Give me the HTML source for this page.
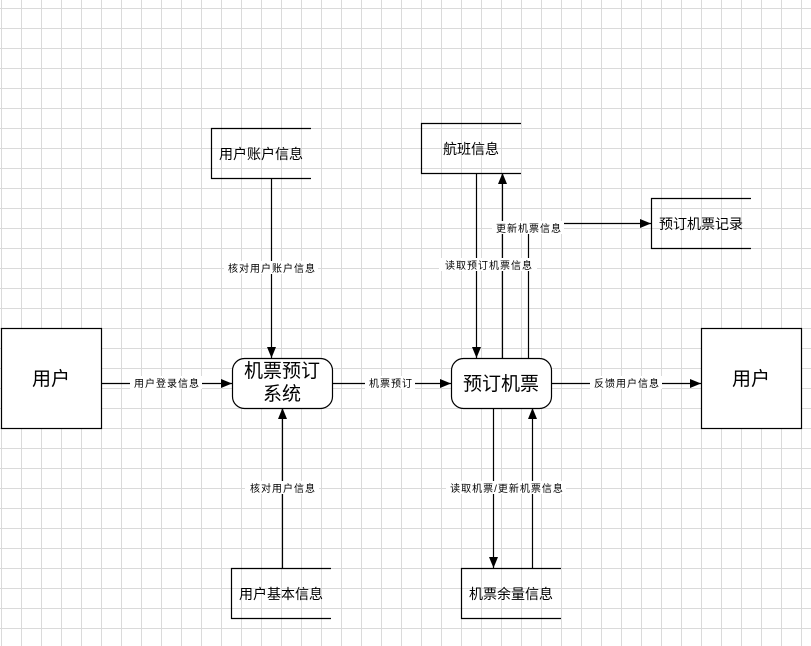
<!DOCTYPE html>
<html><head><meta charset="utf-8"><style>
html,body{margin:0;padding:0;background:#fff;}
svg{display:block;}
text{font-family:"Liberation Sans","Noto Sans CJK SC",sans-serif;fill:#000;}
.s{font-size:10px;letter-spacing:1px;}
</style></head><body>
<svg width="811" height="646" xmlns="http://www.w3.org/2000/svg">
<defs>
<pattern id="g" x="1" y="8" width="20" height="20" patternUnits="userSpaceOnUse">
<path d="M0.5 0V20M0 0.5H20" stroke="#dadada" stroke-width="1" fill="none"/>
</pattern>
<marker id="a" markerWidth="12" markerHeight="12" refX="11" refY="6" orient="auto" markerUnits="userSpaceOnUse">
<path d="M0 1.5L11 6L0 10.5Z" fill="#000"/>
</marker>
</defs>
<rect width="811" height="646" fill="url(#g)"/>
<g stroke="#000" stroke-width="1.2" fill="none">
<rect x="1.5" y="328.5" width="100" height="100" fill="#fff"/>
<rect x="701.5" y="328.5" width="100" height="100" fill="#fff"/>
<path d="M311 128.5H211.5V178.5H311"/>
<path d="M521 123.5H421.5V173.5H521"/>
<path d="M751 198.5H651.5V248.5H751"/>
<path d="M331 568.5H231.5V618.5H331"/>
<path d="M561 568.5H461.5V618.5H561"/>
<rect x="232.5" y="358.5" width="100" height="50" rx="12" fill="#fff"/>
<rect x="451.5" y="358.5" width="100" height="50" rx="12" fill="#fff"/>
<path d="M101 383.5H232" marker-end="url(#a)"/>
<path d="M271.5 178V358" marker-end="url(#a)"/>
<path d="M282.5 568V408" marker-end="url(#a)"/>
<path d="M332 383.5H451" marker-end="url(#a)"/>
<path d="M551 383.5H701" marker-end="url(#a)"/>
<path d="M476.5 173V358" marker-end="url(#a)"/>
<path d="M502.5 358V173" marker-end="url(#a)"/>
<path d="M528.5 358V223.5H651" marker-end="url(#a)"/>
<path d="M493.5 408V568" marker-end="url(#a)"/>
<path d="M532.5 568V408" marker-end="url(#a)"/>
</g>
<g fill="#fff">
<rect x="130" y="376" width="72" height="13"/>
<rect x="224" y="261" width="94" height="13"/>
<rect x="245" y="481" width="74" height="13"/>
<rect x="365" y="376" width="50" height="13"/>
<rect x="590" y="376" width="72" height="13"/>
<rect x="492" y="221" width="72" height="13"/>
<rect x="439" y="258" width="98" height="13"/>
<rect x="446" y="481" width="120" height="13"/>
</g>
<g class="s" text-anchor="middle">
<text x="167" y="387">用户登录信息</text>
<text x="272" y="272">核对用户账户信息</text>
<text x="283" y="492">核对用户信息</text>
<text x="391" y="387">机票预订</text>
<text x="627" y="387">反馈用户信息</text>
<text x="529" y="232">更新机票信息</text>
<text x="489" y="269">读取预订机票信息</text>
<text x="507" y="492">读取机票/更新机票信息</text>
</g>
<g font-size="14">
<text x="219" y="159">用户账户信息</text>
<text x="443" y="154">航班信息</text>
<text x="659" y="229">预订机票记录</text>
<text x="239" y="599">用户基本信息</text>
<text x="469" y="599">机票余量信息</text>
</g>
<g font-size="19" text-anchor="middle">
<text x="51" y="385">用户</text>
<text x="751" y="385">用户</text>
<text x="282" y="377">机票预订</text>
<text x="282" y="400">系统</text>
<text x="501" y="390">预订机票</text>
</g>
</svg>
</body></html>
